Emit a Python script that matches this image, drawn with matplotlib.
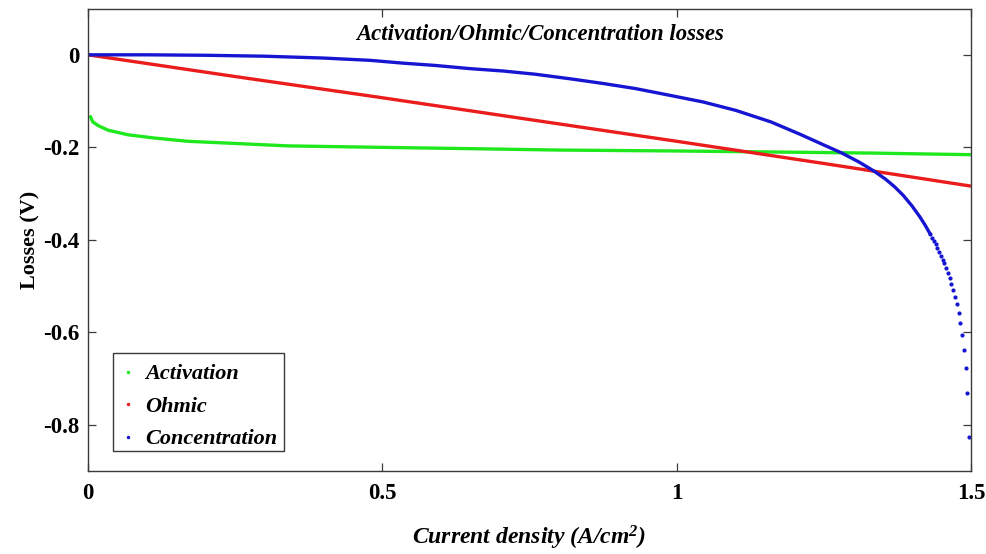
import matplotlib
matplotlib.use("Agg")
import matplotlib.pyplot as plt
from matplotlib.lines import Line2D
from matplotlib.patches import Rectangle

plt.rcParams["font.family"] = ["Liberation Serif", "DejaVu Serif"]
plt.rcParams["axes.unicode_minus"] = False
plt.rcParams["mathtext.fontset"] = "custom"
plt.rcParams["mathtext.default"] = "regular"

# Current density (A/cm^2) and the three voltage losses (V)
act_x = [0.003, 0.008, 0.017, 0.034, 0.068, 0.113, 0.169, 0.255, 0.34, 0.49,
         0.65, 0.80, 1.0, 1.15, 1.33, 1.40, 1.5]
act_y = [-0.131, -0.145, -0.153, -0.163, -0.173, -0.180, -0.187, -0.192, -0.197, -0.200,
         -0.203, -0.206, -0.208, -0.210, -0.2125, -0.214, -0.216]

ohm_x = [0.0, 0.25, 0.49, 0.75, 1.0, 1.25, 1.5]
ohm_y = [0.0, -0.047, -0.091, -0.140, -0.187, -0.235, -0.284]

conc_x = [0.0, 0.1, 0.2, 0.3, 0.4, 0.48, 0.535, 0.59, 0.65, 0.705, 0.76, 0.82,
          0.875, 0.93, 0.99, 1.045, 1.10, 1.16, 1.21, 1.25, 1.28, 1.31, 1.336,
          1.355, 1.37, 1.385, 1.40, 1.413, 1.422, 1.431]
conc_y = [0.0, 0.0, -0.001, -0.003, -0.007, -0.012, -0.018, -0.023, -0.030, -0.035,
          -0.042, -0.052, -0.062, -0.073, -0.088, -0.102, -0.120, -0.145, -0.172,
          -0.195, -0.212, -0.232, -0.252, -0.269, -0.285, -0.304, -0.327, -0.350,
          -0.368, -0.388]
# steep end of the concentration curve, where individual samples separate
conc_tail_x = [1.431, 1.434, 1.437, 1.440, 1.443, 1.446, 1.449, 1.452, 1.455, 1.458,
               1.461, 1.464, 1.467, 1.470, 1.473, 1.476, 1.479, 1.482, 1.485, 1.488,
               1.491, 1.494, 1.497]
conc_tail_y = [-0.388, -0.396, -0.403, -0.410, -0.418, -0.426, -0.435, -0.443, -0.451,
               -0.461, -0.471, -0.482, -0.495, -0.508, -0.523, -0.540, -0.559, -0.581,
               -0.607, -0.638, -0.677, -0.732, -0.826]

series_names = ["Activation", "Ohmic", "Concentration"]
colors = ["#1fe81f", "#ea1c1c", "#1616d2"]

x_ticks = [0, 0.5, 1, 1.5]
x_tick_labels = ["0", "0.5", "1", "1.5"]
y_ticks = [0, -0.2, -0.4, -0.6, -0.8]
y_tick_labels = ["0", "-0.2", "-0.4", "-0.6", "-0.8"]

fig = plt.figure(figsize=(9.87, 5.54), dpi=100)
ax = fig.add_axes([0.0892, 0.150, 0.8945, 0.8345])

lw = 2.4
ax.plot(act_x, act_y, color=colors[0], lw=lw, solid_capstyle="butt")
ax.plot(ohm_x, ohm_y, color=colors[1], lw=lw, solid_capstyle="butt")
ax.plot(conc_x, conc_y, color=colors[2], lw=lw, solid_capstyle="butt")
ax.plot(conc_tail_x, conc_tail_y, linestyle="none", marker="o", markersize=3.0,
        markeredgewidth=0, color=colors[2])

ax.set_xlim(0, 1.5)
ax.set_ylim(-0.9, 0.1)
ax.set_xticks(x_ticks)
ax.set_xticklabels(x_tick_labels)
ax.set_yticks(y_ticks)
ax.set_yticklabels(y_tick_labels)

frame_color = "#3a3a3a"
for s in ax.spines.values():
    s.set_color(frame_color)
    s.set_linewidth(1.0)
ax.tick_params(direction="in", length=5.5, width=0.9, color=frame_color,
               top=True, right=True, labelsize=16.5, labelcolor="black")
ax.tick_params(axis="x", pad=9)
ax.tick_params(axis="y", pad=6)
for lab in ax.get_xticklabels() + ax.get_yticklabels():
    lab.set_fontweight("bold")

ax.set_xlabel("Current density (A/cm$^{2}$)", fontsize=17, fontweight="bold",
              fontstyle="italic", labelpad=14)
ax.set_ylabel("Losses (V)", fontsize=16, fontweight="bold", labelpad=2)

ax.text(0.512, 0.943, "Activation/Ohmic/Concentration losses", transform=ax.transAxes,
        ha="center", va="center", fontsize=16.4, fontweight="bold", fontstyle="italic")

# legend box drawn as its own patch so the entries can sit slightly low inside it
ax.add_patch(Rectangle((0.028, 0.043), 0.194, 0.212, transform=ax.transAxes,
                       facecolor="white", edgecolor=frame_color, linewidth=1.0,
                       zorder=4))
handles = [Line2D([], [], linestyle="none", marker="o", markersize=2.5,
                  markeredgewidth=0, color=c) for c in colors]
leg = ax.legend(handles, series_names, loc="lower left", bbox_to_anchor=(0.028, 0.032),
                borderaxespad=0, frameon=False, handlelength=0.8, handletextpad=0.35,
                borderpad=0.3, labelspacing=0.54,
                prop={"family": "Liberation Serif", "size": 16, "weight": "bold",
                      "style": "italic"})
leg.set_zorder(5)

fig.savefig("out.png", dpi=100, facecolor="white")
